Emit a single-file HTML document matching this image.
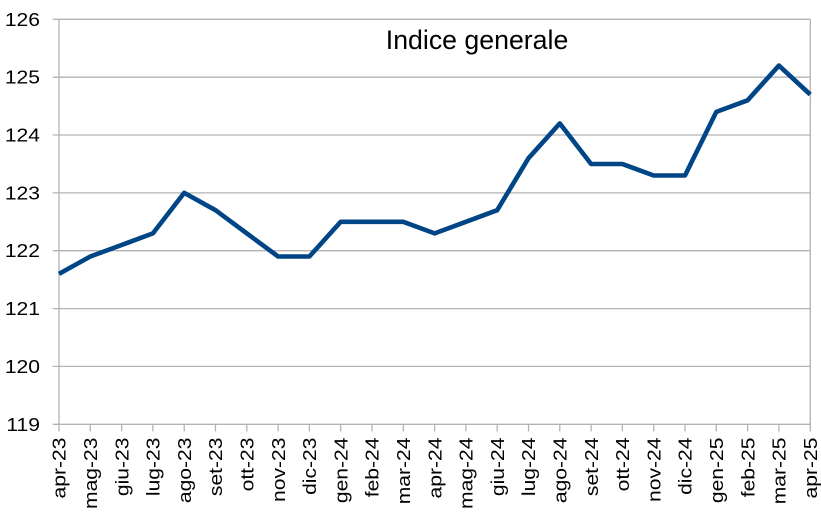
<!DOCTYPE html>
<html>
<head>
<meta charset="utf-8">
<style>
  html, body { margin: 0; padding: 0; background: #ffffff; }
  svg { display: block; }
  text { font-family: "Liberation Sans", Arial, sans-serif; fill: #000000; }
</style>
</head>
<body>
<svg width="821" height="524" viewBox="0 0 821 524" xmlns="http://www.w3.org/2000/svg">
  <rect x="0" y="0" width="821" height="524" fill="#ffffff"/>

  <!-- gridlines + y ticks -->
  <g stroke="#b3b3b3" stroke-width="1.3" fill="none">
    <line x1="52.7" y1="19.3" x2="810.5" y2="19.3"/>
    <line x1="52.7" y1="77.2" x2="810.5" y2="77.2"/>
    <line x1="52.7" y1="135.0" x2="810.5" y2="135.0"/>
    <line x1="52.7" y1="192.9" x2="810.5" y2="192.9"/>
    <line x1="52.7" y1="250.7" x2="810.5" y2="250.7"/>
    <line x1="52.7" y1="308.6" x2="810.5" y2="308.6"/>
    <line x1="52.7" y1="366.4" x2="810.5" y2="366.4"/>
    <line x1="52.7" y1="424.3" x2="810.5" y2="424.3"/>
    <!-- axes -->
    <line x1="59" y1="19.3" x2="59" y2="424.3"/>
    <line x1="810.3" y1="19.3" x2="810.3" y2="431.5"/>
    <!-- x ticks -->
    <line x1="59" y1="424.3" x2="59" y2="431.5"/>
    <line x1="90.3" y1="424.3" x2="90.3" y2="431.5"/>
    <line x1="121.6" y1="424.3" x2="121.6" y2="431.5"/>
    <line x1="152.9" y1="424.3" x2="152.9" y2="431.5"/>
    <line x1="184.2" y1="424.3" x2="184.2" y2="431.5"/>
    <line x1="215.5" y1="424.3" x2="215.5" y2="431.5"/>
    <line x1="246.8" y1="424.3" x2="246.8" y2="431.5"/>
    <line x1="278.1" y1="424.3" x2="278.1" y2="431.5"/>
    <line x1="309.4" y1="424.3" x2="309.4" y2="431.5"/>
    <line x1="340.7" y1="424.3" x2="340.7" y2="431.5"/>
    <line x1="372" y1="424.3" x2="372" y2="431.5"/>
    <line x1="403.3" y1="424.3" x2="403.3" y2="431.5"/>
    <line x1="434.6" y1="424.3" x2="434.6" y2="431.5"/>
    <line x1="465.9" y1="424.3" x2="465.9" y2="431.5"/>
    <line x1="497.2" y1="424.3" x2="497.2" y2="431.5"/>
    <line x1="528.5" y1="424.3" x2="528.5" y2="431.5"/>
    <line x1="559.8" y1="424.3" x2="559.8" y2="431.5"/>
    <line x1="591.1" y1="424.3" x2="591.1" y2="431.5"/>
    <line x1="622.4" y1="424.3" x2="622.4" y2="431.5"/>
    <line x1="653.7" y1="424.3" x2="653.7" y2="431.5"/>
    <line x1="685" y1="424.3" x2="685" y2="431.5"/>
    <line x1="716.3" y1="424.3" x2="716.3" y2="431.5"/>
    <line x1="747.6" y1="424.3" x2="747.6" y2="431.5"/>
    <line x1="778.9" y1="424.3" x2="778.9" y2="431.5"/>
  </g>

  <!-- y labels -->
  <g font-size="18.5" text-anchor="end">
    <text transform="translate(40,25.8) scale(1.14,1)">126</text>
    <text transform="translate(40,83.7) scale(1.14,1)">125</text>
    <text transform="translate(40,141.5) scale(1.14,1)">124</text>
    <text transform="translate(40,199.4) scale(1.14,1)">123</text>
    <text transform="translate(40,257.2) scale(1.14,1)">122</text>
    <text transform="translate(40,315.1) scale(1.14,1)">121</text>
    <text transform="translate(40,372.9) scale(1.14,1)">120</text>
    <text transform="translate(40,430.8) scale(1.14,1)">119</text>
  </g>

  <!-- x labels -->
  <g font-size="18.5" text-anchor="end">
    <text transform="translate(65.7,437.5) rotate(-90) scale(1.14,1)">apr-23</text>
    <text transform="translate(97,437.5) rotate(-90) scale(1.14,1)">mag-23</text>
    <text transform="translate(128.3,437.5) rotate(-90) scale(1.14,1)">giu-23</text>
    <text transform="translate(159.6,437.5) rotate(-90) scale(1.14,1)">lug-23</text>
    <text transform="translate(190.9,437.5) rotate(-90) scale(1.14,1)">ago-23</text>
    <text transform="translate(222.2,437.5) rotate(-90) scale(1.14,1)">set-23</text>
    <text transform="translate(253.5,437.5) rotate(-90) scale(1.14,1)">ott-23</text>
    <text transform="translate(284.8,437.5) rotate(-90) scale(1.14,1)">nov-23</text>
    <text transform="translate(316.1,437.5) rotate(-90) scale(1.14,1)">dic-23</text>
    <text transform="translate(347.4,437.5) rotate(-90) scale(1.14,1)">gen-24</text>
    <text transform="translate(378.7,437.5) rotate(-90) scale(1.14,1)">feb-24</text>
    <text transform="translate(410,437.5) rotate(-90) scale(1.14,1)">mar-24</text>
    <text transform="translate(441.3,437.5) rotate(-90) scale(1.14,1)">apr-24</text>
    <text transform="translate(472.6,437.5) rotate(-90) scale(1.14,1)">mag-24</text>
    <text transform="translate(503.9,437.5) rotate(-90) scale(1.14,1)">giu-24</text>
    <text transform="translate(535.2,437.5) rotate(-90) scale(1.14,1)">lug-24</text>
    <text transform="translate(566.5,437.5) rotate(-90) scale(1.14,1)">ago-24</text>
    <text transform="translate(597.8,437.5) rotate(-90) scale(1.14,1)">set-24</text>
    <text transform="translate(629.1,437.5) rotate(-90) scale(1.14,1)">ott-24</text>
    <text transform="translate(660.4,437.5) rotate(-90) scale(1.14,1)">nov-24</text>
    <text transform="translate(691.7,437.5) rotate(-90) scale(1.14,1)">dic-24</text>
    <text transform="translate(723,437.5) rotate(-90) scale(1.14,1)">gen-25</text>
    <text transform="translate(754.3,437.5) rotate(-90) scale(1.14,1)">feb-25</text>
    <text transform="translate(785.6,437.5) rotate(-90) scale(1.14,1)">mar-25</text>
    <text transform="translate(816.9,437.5) rotate(-90) scale(1.14,1)">apr-25</text>
  </g>

  <!-- title -->
  <text x="385.8" y="49" font-size="26.7">Indice generale</text>

  <!-- series -->
  <polyline fill="none" stroke="#004586" stroke-width="4.6" stroke-linejoin="round" stroke-linecap="butt"
    points="59,273.9 90.3,256.5 121.6,245.0 152.9,233.4 184.2,192.9 215.5,210.2 246.8,233.4 278.1,256.5 309.4,256.5 340.7,221.8 372,221.8 403.3,221.8 434.6,233.4 465.9,221.8 497.2,210.2 528.5,158.2 559.8,123.4 591.1,164.0 622.4,164.0 653.7,175.5 685,175.5 716.3,111.9 747.6,100.3 778.9,65.6 810.2,94.5"/>
</svg>
</body>
</html>
